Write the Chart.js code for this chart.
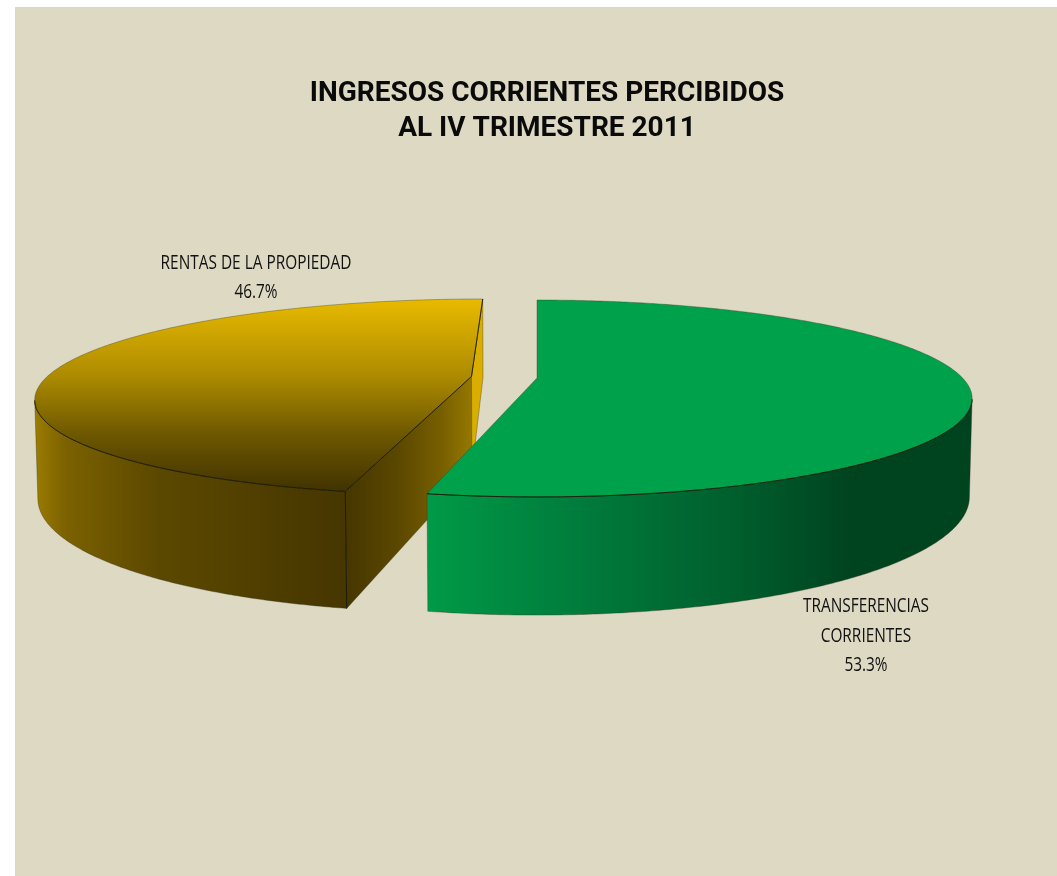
<!DOCTYPE html>
<html>
<head>
<meta charset="utf-8">
<title>Ingresos corrientes</title>
<script src="https://cdn.jsdelivr.net/npm/chart.js@4"></script>
<style>
    html, body { margin: 0; height: 100%; background: #fff; overflow: hidden; }
    #wrap { position: absolute; left: 15px; top: 7px; width: 1042px; height: 869px; background: #DDD9C3; }
</style>
</head>
<body>
<div id="wrap"><canvas id="ingresos"></canvas></div>
<script>
const titleLines = ["INGRESOS CORRIENTES PERCIBIDOS", "AL IV TRIMESTRE 2011"];
const categories = [["TRANSFERENCIAS", "CORRIENTES"], ["RENTAS DE LA PROPIEDAD"]];
const shares = [53.3, 46.7];
const explode = [0, 51];

// camera used to tilt the disc: focus on x, horizon scale, thickness
const view = { x: 522, y: 371, rx: 425.6, ry: 94.2, k: 0.208, depth: 95, sink: 0.006 };
const labelSpots = [
    { x: 851, y: 605, gap: 29.5 },
    { x: 241, y: 262, gap: 29 },
];

const shades = [
    {
        top: [[0, "#00A14B"], [1, "#00A14B"]],
        outer: [[0, "#009A47"], [0.2, "#00843F"], [0.55, "#00602E"], [0.78, "#00431F"], [1, "#00431F"]],
        inner: [[0, "#00A14B"], [1, "#00A14B"]],
        back: "#00A14B",
    },
    {
        top: [[0, "#E8BA00"], [0.4, "#AD8B00"], [0.7, "#6E5800"], [1, "#413300"]],
        outer: [[0, "#9C7C00"], [0.1, "#7B6100"], [0.4, "#5B4800"], [1, "#463600"]],
        inner: [[0, "#463600"], [0.4, "#5A4700"], [0.75, "#765E00"], [1, "#957800"]],
        back: "#D9AE00",
    },
];

const softEdge = "rgba(50,50,30,0.45)";
const hardEdge = "rgba(20,16,0,0.9)";

function project(X, F, lower) {
    const w = 1 - view.k * F + (lower ? view.sink : 0);
    return {
        x: view.x + (view.rx * X) / w,
        y: view.y + (view.ry * F + (lower ? view.depth : 0)) / w,
    };
}

function trace(ctx, points, closed) {
    ctx.beginPath();
    points.forEach((p, i) => (i ? ctx.lineTo(p.x, p.y) : ctx.moveTo(p.x, p.y)));
    if (closed) ctx.closePath();
}

function gradient(ctx, stops, x0, y0, x1, y1) {
    const g = ctx.createLinearGradient(x0, y0, x1, y1);
    stops.forEach(([at, color]) => g.addColorStop(at, color));
    return g;
}

function paint(ctx, points, fill) {
    trace(ctx, points, true);
    ctx.fillStyle = fill;
    ctx.fill();
    ctx.lineWidth = 0.8;
    ctx.strokeStyle = softEdge;
    ctx.stroke();
}

function crease(ctx, points) {
    trace(ctx, points, false);
    ctx.lineWidth = 0.9;
    ctx.strokeStyle = hardEdge;
    ctx.stroke();
}

function drawSlice(ctx, arc, shade) {
    const { startAngle, endAngle, outerRadius, options } = arc;
    const mid = (startAngle + endAngle) / 2;
    const shift = options.offset / outerRadius;
    const cx = Math.cos(mid) * shift;
    const cf = Math.sin(mid) * shift;
    const rim = (a, lower) => project(cx + Math.cos(a), cf + Math.sin(a), lower);
    const hub = (lower) => project(cx, cf, lower);
    const toCamera = { x: -cx, f: 1 / view.k - cf };

    const angles = [];
    for (let a = startAngle; a < endAngle; a += Math.PI / 360) angles.push(a);
    angles.push(endAngle);

    // side walls along the two cut edges, only when they face the camera
    const cuts = [
        { a: startAngle, n: { x: Math.sin(startAngle), f: -Math.cos(startAngle) }, fill: "inner" },
        { a: endAngle, n: { x: -Math.sin(endAngle), f: Math.cos(endAngle) }, fill: "back" },
    ].filter((cut) => cut.n.x * toCamera.x + cut.n.f * toCamera.f > 0.001);

    cuts.forEach((cut) => {
        const quad = [hub(false), rim(cut.a, false), rim(cut.a, true), hub(true)];
        const xs = quad.map((p) => p.x);
        const fill = cut.fill === "inner"
            ? gradient(ctx, shade.inner, Math.min(...xs), 0, Math.max(...xs), 0)
            : shade.back;
        paint(ctx, quad, fill);
    });

    // curved wall: keep the part of the rim turned towards the camera
    const seen = angles.filter(
        (a) => -cx * Math.cos(a) + (1 / view.k - cf) * Math.sin(a) - 1 > 0,
    );
    const upper = seen.map((a) => rim(a, false));
    const lower = seen.map((a) => rim(a, true)).reverse();
    const xs = upper.map((p) => p.x);
    paint(ctx, upper.concat(lower), gradient(ctx, shade.outer, Math.min(...xs), 0, Math.max(...xs), 0));

    // top face, then the dark creases where it meets a visible wall
    const face = [hub(false)].concat(angles.map((a) => rim(a, false)));
    const ys = face.map((p) => p.y);
    paint(ctx, face, gradient(ctx, shade.top, 0, Math.min(...ys), 0, Math.max(...ys)));
    crease(ctx, upper);
    cuts.forEach((cut) => crease(ctx, [hub(false), rim(cut.a, false)]));
    if (startAngle === cuts[0]?.a) crease(ctx, [rim(startAngle, false), rim(startAngle, true)]);
}

const tiltedPie = {
    id: "tiltedPie",
    beforeDatasetDraw(chart, args) {
        const { ctx } = chart;
        const arcs = args.meta.data;
        ctx.save();
        // far slice goes first so the near one can overlap it
        [1, 0].forEach((i) => drawSlice(ctx, arcs[i], shades[i]));
        ctx.restore();
        return false;
    },
    afterDraw(chart) {
        const { ctx } = chart;
        ctx.save();
        ctx.fillStyle = "#111";
        ctx.textAlign = "center";
        ctx.font = '500 20px "Open Sans", sans-serif';
        categories.forEach((lines, i) => {
            const spot = labelSpots[i];
            const rows = lines.concat(chart.data.datasets[0].data[i].toFixed(1) + "%");
            rows.forEach((row, r) => {
                ctx.save();
                // condensed face, Open Sans squeezed sideways
                ctx.translate(spot.x, spot.y + r * spot.gap);
                ctx.scale(0.77, 1);
                ctx.fillText(row, 0, 0);
                ctx.restore();
            });
        });
        ctx.restore();
    },
};

new Chart(document.getElementById("ingresos"), {
    type: "pie",
    data: {
        labels: categories.map((c) => c.join(" ")),
        datasets: [{
            data: shares,
            offset: explode,
            backgroundColor: ["#00A14B", "#E8BA00"],
        }],
    },
    options: {
        responsive: true,
        maintainAspectRatio: false,
        animation: false,
        layout: { padding: { left: 22 } },
        plugins: {
            legend: { display: false },
            tooltip: { enabled: false },
            title: {
                display: true,
                text: titleLines,
                color: "#0a0a0a",
                font: { family: "Roboto", size: 28, weight: "bold", lineHeight: 1.25 },
                padding: { top: 69, bottom: 20 },
            },
        },
    },
    plugins: [tiltedPie],
});
</script>
</body>
</html>
